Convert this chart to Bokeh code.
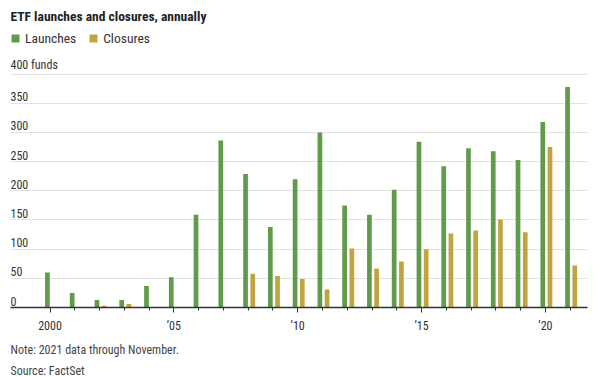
from bokeh.plotting import figure
from bokeh.models import (ColumnDataSource, FixedTicker, Legend, LegendItem, Title, Range1d)
from bokeh.transform import dodge
from bokeh.core.properties import value
from bokeh.embed import file_html
from bokeh.resources import INLINE

years = list(range(2000, 2022))
launches = [60, 25, 13, 13, 37, 52, 159, 286, 229, 138, 220, 300, 175, 159, 202, 284, 242, 273, 268, 253, 318, 378]
closures = [0, 0, 3, 6, 0, 1, 1, 0, 58, 54, 49, 31, 101, 67, 79, 100, 127, 132, 151, 129, 275, 72]
x_ticks = [2000, 2005, 2010, 2015, 2020]
x_tick_labels = ["2000", "\u201905", "\u201910", "\u201915", "\u201920"]
y_ticks = [0, 50, 100, 150, 200, 250, 300, 350, 400]
y_tick_labels = ["0", "50", "100", "150", "200", "250", "300", "350", "400 funds"]
title_text = "ETF launches and closures, annually"
notes = ["Note: 2021 data through November.", "Source: FactSet"]

GREEN = "#609b4b"
GOLD = "#c1a442"
FONT = "Roboto Condensed"

X0, X1 = 1998.405, 2021.70
FRAME_TOP = 26
Y0, Y1 = 0, (308.5 - FRAME_TOP) / 0.5908

src = ColumnDataSource(dict(year=years, launches=launches, closures=closures))

p = figure(width=600, height=377, output_backend="svg", toolbar_location=None,
           x_range=Range1d(X0, X1), y_range=Range1d(Y0, Y1),
           min_border_left=10, min_border_right=13, min_border_top=0, min_border_bottom=0)
p.outline_line_color = None
p.background_fill_color = "white"

r1 = p.vbar(x=dodge("year", -0.105, range=p.x_range), top="launches", width=0.19,
            source=src, fill_color=GREEN, line_color=None)
r2 = p.vbar(x=dodge("year", 0.186, range=p.x_range), top="closures", width=0.19,
            source=src, fill_color=GOLD, line_color=None)

# axes
p.yaxis.visible = False
p.xaxis.ticker = FixedTicker(ticks=x_ticks, minor_ticks=years)
p.xaxis.major_label_overrides = {t: l for t, l in zip(x_ticks, x_tick_labels)}
p.xaxis.axis_line_color = "#333333"
p.xaxis.axis_line_width = 1.5
p.xaxis.major_tick_line_color = "#333333"
p.xaxis.minor_tick_line_color = "#333333"
p.xaxis.major_tick_in = 0
p.xaxis.major_tick_out = 5
p.xaxis.minor_tick_in = 0
p.xaxis.minor_tick_out = 3
p.xaxis.major_label_text_font = FONT
p.xaxis.major_label_text_font_size = "12px"
p.xaxis.major_label_text_color = "#333333"
p.xaxis.major_label_standoff = 6

p.xgrid.visible = False
p.ygrid.ticker = FixedTicker(ticks=y_ticks)
p.ygrid.grid_line_color = "#e2e2e2"
p.ygrid.grid_line_width = 1

# y labels above grid lines
lab_src = ColumnDataSource(dict(x=[X0] * len(y_ticks), y=y_ticks, t=y_tick_labels))
p.text(x="x", y="y", text="t", source=lab_src, text_align="left", text_baseline="bottom",
       y_offset=-2, text_font=value(FONT), text_font_size="12px", text_color="#333333")

# title
p.title.text = title_text
p.title.text_font = FONT
p.title.text_font_size = "13.5px"
p.title.text_font_style = "bold"
p.title.text_color = "#222222"
p.title.align = "left"

legend = Legend(items=[LegendItem(label="Launches", renderers=[r1]),
                       LegendItem(label="Closures", renderers=[r2])],
                orientation="horizontal", location=(0, 261))
legend.margin = 0
legend.padding = 0
legend.spacing = 12
legend.glyph_width = 10
legend.glyph_height = 10
legend.label_height = 16
legend.label_standoff = 5
legend.label_text_font = FONT
legend.label_text_font_size = "13.5px"
legend.label_text_color = "#333333"
legend.border_line_alpha = 0
legend.background_fill_alpha = 0
p.add_layout(legend, "center")

for i, txt in enumerate(notes):
    p.add_layout(Title(text=txt, align="left", text_font=FONT, text_font_size="12px",
                       text_font_style="normal", text_color="#444444",
                       standoff=(10 if i == 0 else 0)), "below")

open("out.html", "w").write(file_html(p, INLINE))
